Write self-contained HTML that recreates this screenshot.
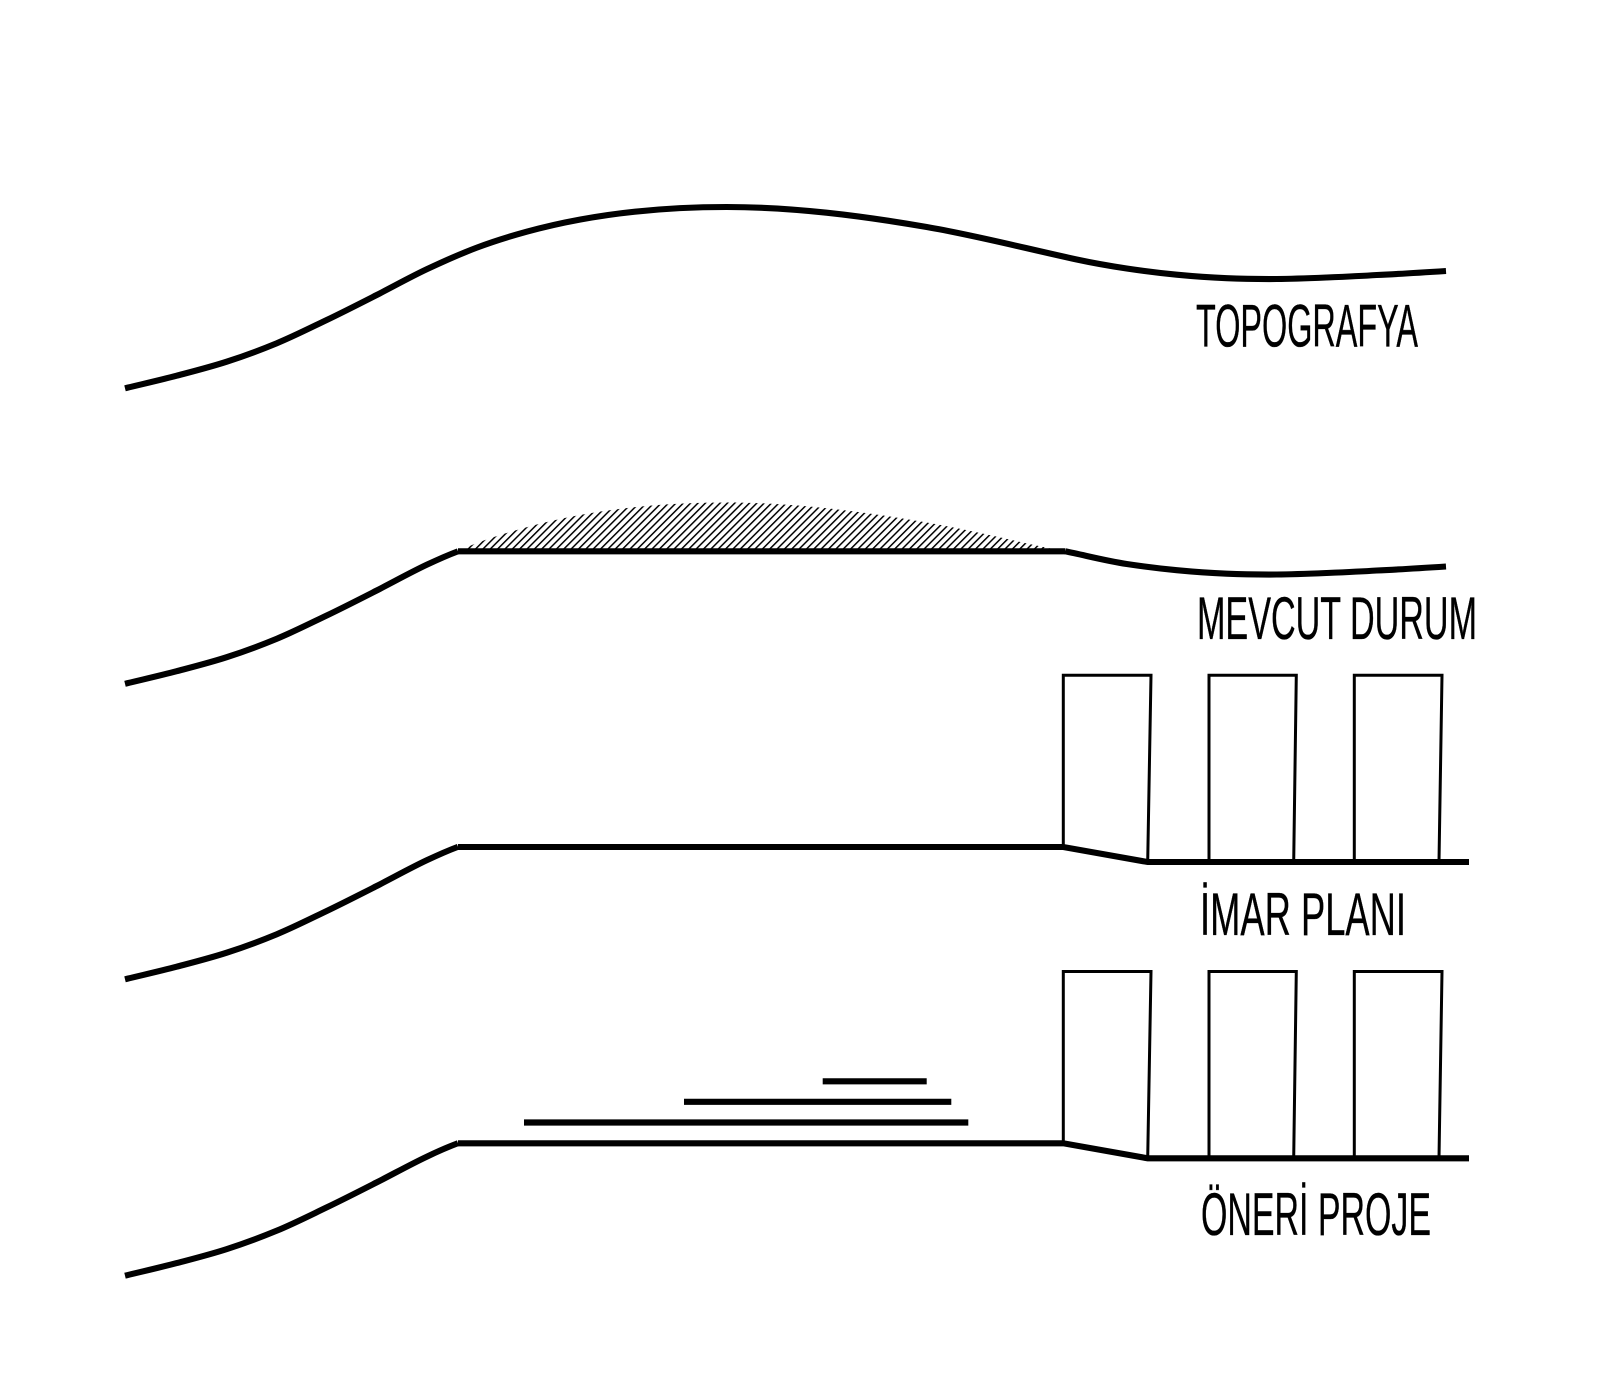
<!DOCTYPE html>
<html>
<head>
<meta charset="utf-8">
<style>
html,body{margin:0;padding:0;background:#fff;width:1609px;height:1384px;overflow:hidden}
svg{display:block}
text{font-family:"Liberation Sans",sans-serif;font-size:60.6px;fill:#000;stroke:#000;stroke-width:.35}
.t{fill:none;stroke:#000;stroke-width:6.1}
.b{fill:none;stroke:#000;stroke-width:3;stroke-linejoin:miter}
</style>
</head>
<body>
<svg width="1609" height="1384" viewBox="0 0 1609 1384" xmlns="http://www.w3.org/2000/svg">
<defs>
<pattern id="h" patternUnits="userSpaceOnUse" width="5.2" height="5.2" patternTransform="rotate(45)">
<rect x="0" y="0" width="1.5" height="5.2" fill="#000"/>
</pattern>
<path id="left" d="M125 388.3 C142.2 384.1,160 380.1,176.7 375.7 C193.4 371.3,210 367.1,226.7 361.7 C243.4 356.3,260 350.2,276.7 343.3 C293.4 336.4,310 328,326.7 320 C343.4 312,360 303.5,376.7 295 C393.4 286.5,410 277.2,426.7 269.3 C443.4 261.4,450 258.8,458 255.8"/>
<g id="blds">
<path class="b" d="M1063.3 1143 V971.5 H1151 L1147.7 1158"/>
<path class="b" d="M1209 1158 V971.5 H1296.3 L1293.7 1158"/>
<path class="b" d="M1354.3 1158 V971.5 H1442 L1439 1158"/>
<path class="t" d="M458 1143.3 H1063.3 L1147.7 1158.3 H1469"/>
</g>
</defs>
<rect width="1609" height="1384" fill="#fff"/>

<!-- Row 1 -->
<path class="t" d="M125 388.3 C142.2 384.1,160 380.1,176.7 375.7 C193.4 371.3,210 367.1,226.7 361.7 C243.4 356.3,260 350.2,276.7 343.3 C293.4 336.4,310 328,326.7 320 C343.4 312,360 303.5,376.7 295 C393.4 286.5,410 277.2,426.7 269.3 C443.4 261.4,460 254,476.7 247.7 C493.4 241.4,510 236.3,526.7 231.7 C593 213.5,660 207,726.7 207 C793 207,860 215.5,926.7 227 C976.7 235.6,1026.7 248.7,1076.7 259.5 C1093.4 263.1,1110 266,1126.7 268.5 C1143.4 271,1160 273.1,1176.7 274.7 C1193.4 276.3,1210 277.5,1226.7 278.2 C1243.4 278.9,1260 279.1,1276.7 279 C1293.4 278.9,1310 278.2,1326.7 277.5 C1343.4 276.8,1360 276.1,1376.7 275 C1399.8 274,1423 272.5,1446 271"/>
<text x="1196" y="346.7" textLength="222" lengthAdjust="spacingAndGlyphs">TOPOGRAFYA</text>

<!-- Row 2 -->
<path transform="translate(0,295.5)" fill="url(#h)" d="M458 255.8 C463 253.5,470 250,476.7 247.7 C493.4 241.4,510 236.3,526.7 231.7 C593 213.5,660 207,726.7 207 C793 207,860 215.5,926.7 227 C976.7 235.6,1020 247,1065 256 Z"/>
<use href="#left" class="t" transform="translate(0,295.5)"/>
<path class="t" d="M458 551.3 H1065"/>
<path class="t" transform="translate(0,295.5)" d="M1065 255.8 C1085 259.8,1105 265.2,1126.7 268.5 C1143.4 271,1160 273.1,1176.7 274.7 C1193.4 276.3,1210 277.5,1226.7 278.2 C1243.4 278.9,1260 279.1,1276.7 279 C1293.4 278.9,1310 278.2,1326.7 277.5 C1343.4 276.8,1360 276.1,1376.7 275 C1399.8 274,1423 272.5,1446 271"/>
<text x="1197" y="639" textLength="280" lengthAdjust="spacingAndGlyphs">MEVCUT DURUM</text>

<!-- Row 3 -->
<use href="#left" class="t" transform="translate(0,591)"/>
<use href="#blds" transform="translate(0,-296.3)"/>
<text x="1200" y="935" textLength="206" lengthAdjust="spacingAndGlyphs">İMAR PLANI</text>

<!-- Row 4 -->
<use href="#left" class="t" transform="translate(0,887.4)"/>
<use href="#blds"/>
<path d="M822.7 1081.3 H926.7 M684 1101.8 H951.3 M524 1122.5 H968.3" fill="none" stroke="#000" stroke-width="6.2"/>
<text x="1201" y="1235" textLength="230" lengthAdjust="spacingAndGlyphs">ÖNERİ PROJE</text>
</svg>
</body>
</html>
